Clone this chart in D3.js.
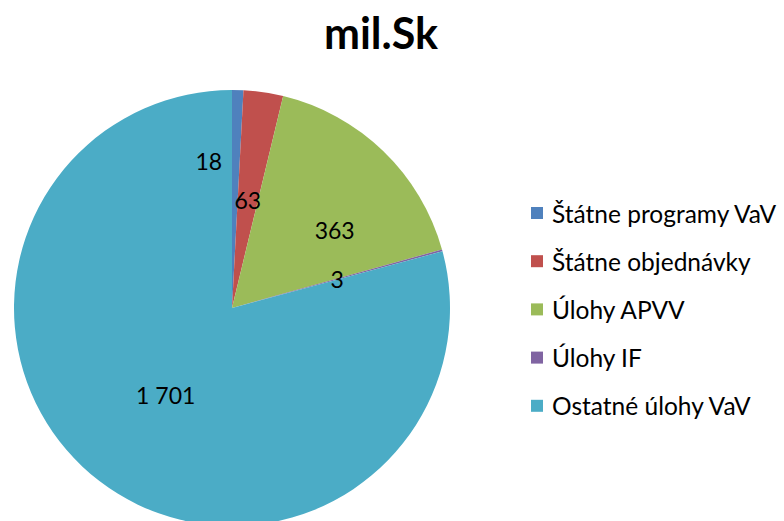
<!DOCTYPE html>
<html><head><meta charset="utf-8">
<script src="https://cdn.jsdelivr.net/npm/d3@7"></script>
<style>body{margin:0;background:#fff;}svg{display:block;font-family:Lato,"Open Sans",sans-serif;}</style>
</head><body>
<script>
const categories = ["Štátne programy VaV","Štátne objednávky","Úlohy APVV","Úlohy IF","Ostatné úlohy VaV"];
const values = [18, 63, 363, 3, 1701];
const valueLabels = ["18","63","363","3","1 701"];
const colors = ["#4F81BD","#C0504D","#9BBB59","#8064A2","#4BACC6"];
const title = "mil.Sk";

const W=784,H=521;
const svg=d3.select("body").append("svg").attr("width",W).attr("height",H);
svg.append("text").attr("x",381).attr("y",49).attr("text-anchor","middle")
  .attr("font-size",43).attr("font-weight","bold").attr("fill","#000").text(title);

const cx=232, cy=308, R=218;
const pie=d3.pie().sort(null).value(d=>d);
const arcs=pie(values);
const arc=d3.arc().innerRadius(0).outerRadius(R);
const labelArc=d3.arc().innerRadius(R*0.5).outerRadius(R*0.5);
const g=svg.append("g").attr("transform",`translate(${cx},${cy})`);
g.selectAll("path").data(arcs).join("path").attr("d",arc).attr("fill",(d,i)=>colors[i]);
const nudge=[[-26,-38],[0,0],[27,0],[0,0],[0,0]];
g.selectAll("text").data(arcs).join("text")
  .attr("transform",(d,i)=>{const c=labelArc.centroid(d);return `translate(${c[0]+nudge[i][0]},${c[1]+nudge[i][1]})`;})
  .attr("text-anchor","middle").attr("dominant-baseline","central")
  .attr("font-size",23).attr("fill","#000").text((d,i)=>valueLabels[i]);

const lg=svg.append("g");
categories.forEach((c,i)=>{
  const y=213+i*48.2;
  lg.append("rect").attr("x",531).attr("y",y-6).attr("width",12).attr("height",12).attr("fill",colors[i]);
  lg.append("text").attr("x",552).attr("y",y).attr("dominant-baseline","central")
    .attr("font-size",24.5).attr("fill","#000").text(c);
});
</script>
</body></html>
